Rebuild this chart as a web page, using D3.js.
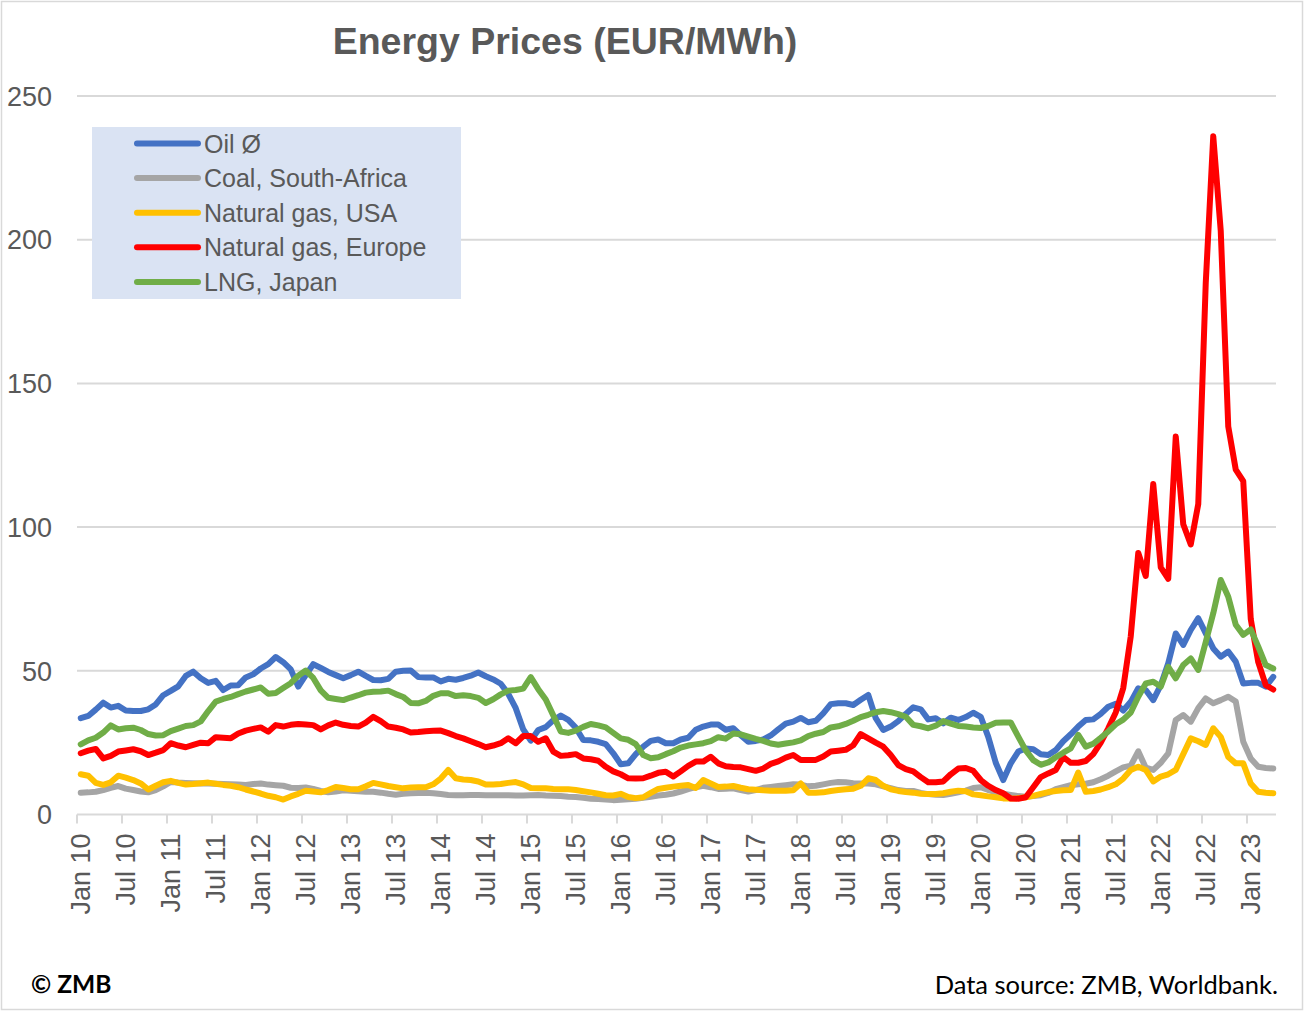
<!DOCTYPE html>
<html>
<head>
<meta charset="utf-8">
<script src="https://cdn.jsdelivr.net/npm/d3@7/dist/d3.min.js"></script>
<style>
  html, body { margin: 0; padding: 0; background: #fff; }
  svg { display: block; }
</style>
</head>
<body>
<svg id="chart" width="1304" height="1011"></svg>
<script>
// ---- data (EUR/MWh, monthly Jan 2010 – Apr 2023) ----
const startMonth = new Date(2010, 0, 1);
const endMonth = new Date(2023, 4, 1);
const months = d3.timeMonth.range(startMonth, endMonth); // 160 categories

const tickLabels = ["Jan 10","Jul 10","Jan 11","Jul 11","Jan 12","Jul 12","Jan 13","Jul 13",
  "Jan 14","Jul 14","Jan 15","Jul 15","Jan 16","Jul 16","Jan 17","Jul 17","Jan 18","Jul 18",
  "Jan 19","Jul 19","Jan 20","Jul 20","Jan 21","Jul 21","Jan 22","Jul 22","Jan 23"];

const yTicks = [0, 50, 100, 150, 200, 250];

const seriesNames = ["Oil Ø", "Coal, South-Africa", "Natural gas, USA", "Natural gas, Europe", "LNG, Japan"];
const seriesColors = ["#4472c4", "#a5a5a5", "#ffc000", "#ff0000", "#70ad47"];

const oil = [
  33.5,34.3,36.5,38.9,37.2,37.8,36.2,36,36,36.6,
  38.3,41.5,43,44.6,48.2,49.7,47.4,45.8,46.5,43.3,
  44.9,45,47.7,48.8,50.8,52.3,54.8,53,50.5,44.5,
  48.5,52.3,51,49.6,48.5,47.4,48.5,49.7,48.2,46.8,
  46.7,47.2,49.7,50,50.1,47.8,47.7,47.7,46.3,47.2,
  46.9,47.5,48.3,49.4,48.1,47,45.5,42,37,29.6,
  25.7,29.4,30.4,32.8,34.4,32.9,30.2,25.9,25.8,25.3,
  24.5,21.3,17.5,17.8,21,23.6,25.6,26.1,24.8,24.8,
  26.1,26.7,29.5,30.6,31.3,31.3,29.5,30,27.6,25.3,
  25.6,26.1,27.5,29.6,31.6,32.3,33.6,32.1,32.6,35.2,
  38.4,38.7,38.7,38.1,39.9,41.6,33.5,29.4,30.6,32.5,
  35,37.3,36.6,33.1,33.5,31.7,33.7,32.9,33.9,35.4,
  34,27,18,12,17.8,21.9,23,22.7,21,20.7,
  22.4,25.5,27.9,30.6,32.9,33.1,35,37.5,38.5,36.2,
  39.2,43.9,43.3,39.8,45,52.6,63,59,64.2,68.3,
  63,57.8,54.9,56.7,53.2,45.6,45.8,45.8,44.5,47.9
];

const coal = [
  7.6,7.7,7.9,8.5,9.3,9.9,9,8.5,8,7.7,
  8.5,9.8,11.3,11.1,11,10.9,10.8,10.8,10.7,10.6,
  10.5,10.4,10.3,10.6,10.8,10.4,10.2,10,9.3,9.2,
  9.4,8.9,8.2,7.7,8,8.4,8.3,8.1,7.9,7.9,
  7.6,7.2,6.9,7.2,7.4,7.5,7.6,7.4,7.1,6.8,
  6.7,6.7,6.8,6.8,6.7,6.7,6.7,6.7,6.6,6.6,
  6.7,6.8,6.6,6.5,6.4,6.2,6.1,5.8,5.5,5.4,
  5.2,5,5.1,5.3,5.5,5.8,6.2,6.6,6.9,7.3,
  8,8.8,9.5,10,9.5,8.9,9,9.1,8.5,8,
  8.5,9.3,9.6,9.9,10.2,10.5,10.4,9.8,10,10.5,
  11,11.3,11.2,10.9,10.8,10.8,10.5,9.8,9.2,8.5,
  8.2,8.2,7.5,7.1,6.9,6.8,7.2,7.7,8.3,9.2,
  9.5,8.5,7.8,7.2,6.8,6.4,6.2,6.4,6.7,7.5,
  8.8,9.5,10.2,10.5,10.7,11.2,12.3,13.5,15,16.4,
  17,22,16.3,15.5,18,21.3,32.9,34.6,32.3,37,
  40.4,38.7,39.8,41,39.3,25.3,19.5,16.6,16.2,16
];

const gasUSA = [
  14,13.5,11,10.3,11.2,13.5,12.8,12,10.8,8.7,
  10,11.2,11.7,11,10.4,10.6,10.9,11.1,10.7,10.3,
  10,9.5,8.7,8,7.3,6.5,6,5.2,6.3,7.2,
  8.3,8,7.7,8.5,9.6,9.2,8.8,8.8,9.8,11,
  10.5,9.9,9.5,9.1,9.4,9.5,9.5,10.5,12.5,15.5,
  12.6,12.2,12,11.5,10.4,10.4,10.6,11,11.3,10.5,
  9.2,9.1,9.1,8.9,8.8,8.8,8.5,8.1,7.7,7.2,
  6.7,6.6,7.2,6.1,5.7,6,7.5,8.9,9.3,9.7,
  10,10.3,9.2,12,10.8,9.6,9.7,9.9,9.3,8.8,
  8.6,8.4,8.3,8.3,8.3,8.4,10.8,7.6,7.6,7.7,
  8.2,8.5,8.8,9,10,12.6,12,10,8.8,8.2,
  7.8,7.6,7.2,7.1,7.1,7.4,7.9,8.3,8.1,7,
  6.7,6.3,6,5.6,5.6,5.7,6,6.5,7.2,7.8,
  8.2,8.4,8.5,14.6,7.9,8.2,8.7,9.5,10.5,12.5,
  15.5,16.6,15.5,11.5,13.2,14,15.5,21,26.5,25.5,
  24.2,30,27,20,17.8,17.8,10.8,7.9,7.6,7.4
];

const gasEurope = [
  21.3,22.2,22.8,19.5,20.4,21.9,22.3,22.7,22,20.7,
  21.5,22.4,24.8,24,23.4,24.2,25,24.8,26.9,26.7,
  26.5,28.2,29.2,29.8,30.3,28.8,31.1,30.6,31.2,31.5,
  31.3,31.1,29.6,31,32,31.2,30.8,30.6,32,34,
  32.5,30.6,30.2,29.6,28.5,28.7,29,29.1,29.2,28.3,
  27.3,26.5,25.5,24.5,23.4,24,24.8,26.5,24.8,27.3,
  27.3,25.3,26.5,21.9,20.4,20.6,21,19.5,19.2,18.7,
  16.6,15,14,12.6,12.5,12.6,13.5,14.5,14.9,13.2,
  15,16.9,18.4,18.4,20.1,17.8,16.8,16.5,16.4,15.8,
  15.2,16,17.6,18.5,19.8,20.7,19,19,19,20.2,
  21.9,22.2,22.5,24.1,28,26.5,25,23.6,20.7,17.2,
  15.8,15,13,11.2,11.2,11.5,14,16,16.2,15.2,
  12,10,8.5,7.4,5.6,5.5,6,9.5,13,14.3,
  15.5,20,18,18,18.6,21,25,30,35.5,44,
  62,91,83,115,86,82,131.5,101,94,108,
  185,236,203,135,120,116,68,53,45,43.5
];

const lngJapan = [
  24.4,25.8,26.7,28.5,31,29.6,30,30.2,29.4,28,
  27.5,27.6,29,29.9,30.8,31.1,32.4,36,39.3,40.2,
  40.9,41.9,42.8,43.5,44.2,42,42.3,44,45.7,48.3,
  50.1,47.5,43.2,40.6,40.2,39.8,40.7,41.5,42.4,42.7,
  42.8,43.1,41.9,40.9,38.8,38.7,39.5,41.3,42.2,42.2,
  41.2,41.5,41.2,40.6,38.8,40.1,41.8,43.1,43.3,43.8,
  47.8,43.6,40,34.5,28.9,28.4,29.2,30.5,31.5,31,
  30.3,28.4,26.5,26,24.5,20.7,19.6,19.9,21,22,
  23.3,24,24.4,24.8,25.5,26.9,26.4,28.2,27.9,27.1,
  26.3,25.6,24.7,24.3,24.7,25.1,25.8,27.3,28.1,28.7,
  30.3,30.7,31.5,32.6,33.9,34.7,35.6,36,35.6,34.9,
  34,31.2,30.7,30,30.9,32.5,31.6,30.8,30.6,30.3,
  30.1,30.8,31.9,32,32,27.1,22.3,18.9,17.3,18.1,
  19.9,21.5,23,27.7,23.6,24.6,26.7,28.9,31.4,33,
  35.5,41,45.6,46.2,44.5,51.4,47.4,52,54.3,50.3,
  60,70,81.6,75.8,66,62.5,64.4,58.4,52,50.8
];

const seriesValues = [oil, coal, gasUSA, gasEurope, lngJapan];

// ---- drawing ----
const svg = d3.select("#chart");
const W = 1304, H = 1011;
const textColor = "#595959";
const gridColor = "#d9d9d9";

// outer chart border
svg.append("rect")
  .attr("x", 1.5).attr("y", 1.5).attr("width", W - 3).attr("height", H - 3)
  .attr("fill", "#fff").attr("stroke", gridColor).attr("stroke-width", 1.5);

const plotLeft = 77, plotRight = 1277, plotTop = 96, plotBottom = 814.5;

const x = d3.scaleBand()
  .domain(d3.range(months.length))
  .range([plotLeft, plotRight])
  .paddingInner(0).paddingOuter(0);
const xc = i => x(i) + x.bandwidth() / 2;

const y = d3.scaleLinear().domain([0, 250]).range([plotBottom, plotTop]);

// gridlines
svg.append("g")
  .selectAll("line")
  .data(yTicks.filter(d => d > 0))
  .join("line")
  .attr("x1", plotLeft).attr("x2", plotRight - 1)
  .attr("y1", d => y(d)).attr("y2", d => y(d))
  .attr("stroke", gridColor).attr("stroke-width", 2);

// y axis labels
svg.append("g")
  .selectAll("text")
  .data(yTicks)
  .join("text")
  .attr("x", 52).attr("y", d => y(d))
  .attr("dy", "0.36em")
  .attr("text-anchor", "end")
  .attr("font-family", "Liberation Sans, Arial, sans-serif")
  .attr("font-size", 27)
  .attr("fill", textColor)
  .text(d => d);

// x axis line and ticks
const tickIdx = d3.range(0, months.length + 1, 6);
svg.append("line")
  .attr("x1", plotLeft).attr("x2", plotRight - 1)
  .attr("y1", plotBottom).attr("y2", plotBottom)
  .attr("stroke", gridColor).attr("stroke-width", 2);
svg.append("g")
  .selectAll("line")
  .data(tickIdx.filter(i => i < months.length))
  .join("line")
  .attr("x1", i => x(i)).attr("x2", i => x(i))
  .attr("y1", plotBottom).attr("y2", plotBottom + 9)
  .attr("stroke", gridColor).attr("stroke-width", 2);

// x labels (rotated)
svg.append("g")
  .selectAll("text")
  .data(tickLabels)
  .join("text")
  .attr("transform", (d, i) => `translate(${xc(i * 6)},${plotBottom + 19}) rotate(-90)`)
  .attr("dy", "0.36em")
  .attr("text-anchor", "end")
  .attr("font-family", "Liberation Sans, Arial, sans-serif")
  .attr("font-size", 27)
  .attr("fill", textColor)
  .text(d => d);

// lines
const line = d3.line()
  .x((d, i) => xc(i))
  .y(d => y(d))
  .curve(d3.curveLinear);

svg.append("g")
  .selectAll("path")
  .data(seriesValues)
  .join("path")
  .attr("d", d => line(d))
  .attr("fill", "none")
  .attr("stroke", (d, i) => seriesColors[i])
  .attr("stroke-width", 6)
  .attr("stroke-linejoin", "round")
  .attr("stroke-linecap", "round");

// title
svg.append("text")
  .attr("x", 565).attr("y", 54)
  .attr("text-anchor", "middle")
  .attr("font-family", "Liberation Sans, Arial, sans-serif")
  .attr("font-weight", "bold")
  .attr("font-size", 37.5)
  .attr("fill", textColor)
  .text("Energy Prices (EUR/MWh)");

// legend
const legend = svg.append("g");
legend.append("rect")
  .attr("x", 92).attr("y", 127).attr("width", 369).attr("height", 172)
  .attr("fill", "#dae3f3");
const legendY = i => 143.5 + i * 34.6;
legend.selectAll("line")
  .data(seriesNames)
  .join("line")
  .attr("x1", 137).attr("x2", 198)
  .attr("y1", (d, i) => legendY(i)).attr("y2", (d, i) => legendY(i))
  .attr("stroke", (d, i) => seriesColors[i])
  .attr("stroke-width", 6)
  .attr("stroke-linecap", "round");
legend.selectAll("text")
  .data(seriesNames)
  .join("text")
  .attr("x", 204).attr("y", (d, i) => legendY(i))
  .attr("dy", "0.36em")
  .attr("font-family", "Liberation Sans, Arial, sans-serif")
  .attr("font-size", 25)
  .attr("fill", textColor)
  .text(d => d);

// footer
svg.append("text")
  .attr("x", 31).attr("y", 993)
  .attr("font-family", "Lato, sans-serif")
  .attr("font-weight", "bold")
  .attr("font-size", 24.5)
  .attr("fill", "#000")
  .text("© ZMB");
svg.append("text")
  .attr("x", 1278).attr("y", 994)
  .attr("text-anchor", "end")
  .attr("font-family", "Lato, sans-serif")
  .attr("font-size", 25.5)
  .attr("fill", "#000")
  .text("Data source: ZMB, Worldbank.");
</script>
</body>
</html>
